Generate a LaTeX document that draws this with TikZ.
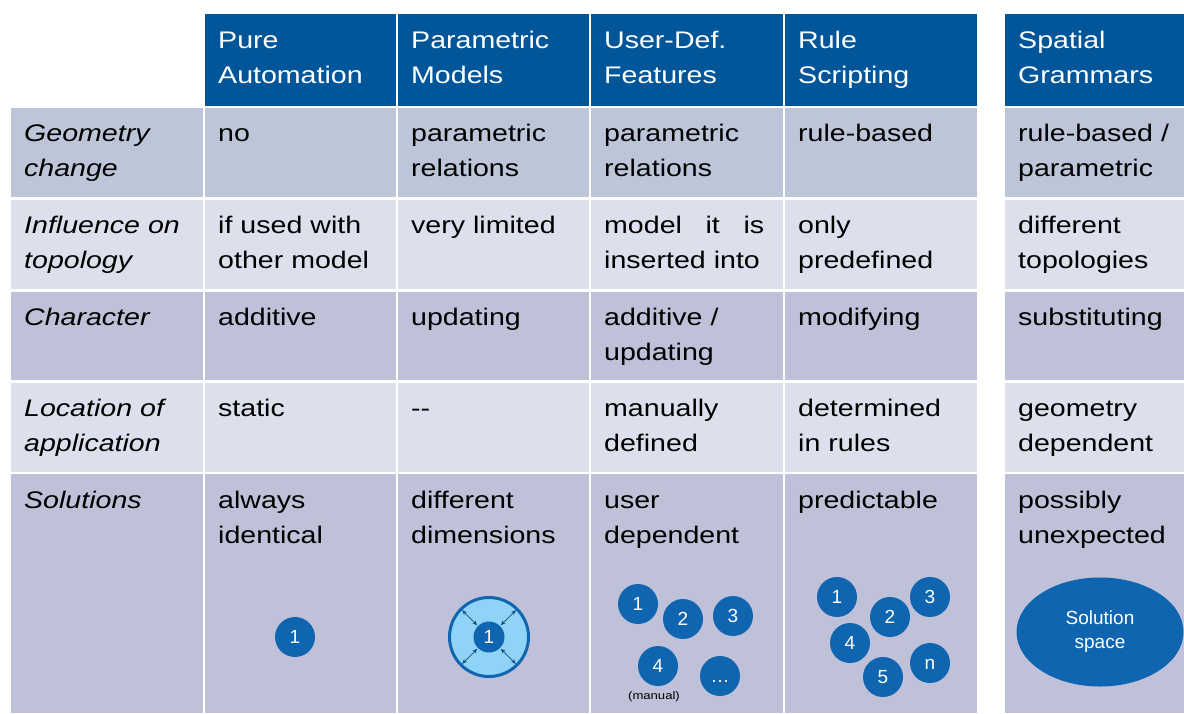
\documentclass[tikz,border=0pt]{standalone}
\usepackage{fontspec}
\setmainfont{Liberation Sans}[FakeStretch=1.19]
\newfontfamily\dotfont{Liberation Sans}
\usepackage{tikz}
\usetikzlibrary{shapes.geometric, arrows.meta, positioning}
\usepackage{xcolor}
\definecolor{headblue}{RGB}{1,86,154}
\definecolor{rowblue}{RGB}{189,198,217}
\definecolor{rowlight}{RGB}{221,224,236}
\definecolor{rowpurple}{RGB}{191,193,216}
\definecolor{dotblue}{RGB}{16,101,176}
\definecolor{lightcyan}{RGB}{143,212,246}
\definecolor{arrowblue}{RGB}{20,72,132}

\begin{document}
\begin{tikzpicture}[x=1pt, y=-1pt, >={Stealth[length=5pt, width=4pt]}]
    \useasboundingbox (0,0) rectangle (1184,713);
    \tikzstyle{cell}=[anchor=base west, inner sep=0pt, text width=172pt, align=left, font=\fontsize{24}{35}\selectfont]
    \tikzstyle{head}=[cell, text=white]
    \tikzstyle{numdot}=[circle, fill=dotblue, text=white, minimum size=40pt, inner sep=0pt, text height=13.6pt, text depth=0pt, font=\dotfont\fontsize{19}{19}\selectfont]

    % Header cells
    \foreach \xa/\xb in {205/396, 398/589, 591/783, 785/977, 1005/1184}
        \fill[headblue] (\xa,14) rectangle (\xb,106);

    % Body cells, row by row
    \foreach \ya/\yb/\rowcol in {108/197/rowblue, 200/289/rowlight, 292/380/rowpurple, 383/472/rowlight, 474/713/rowpurple}
        \foreach \xa/\xb in {11/203, 205/396, 398/589, 591/783, 785/977, 1005/1184}
            \fill[\rowcol] (\xa,\ya) rectangle (\xb,\yb);

    % Column heads
    \node[head] (hPA) at (218,48) {Pure\\Automation};
    \node[head] (hPM) at (411,48) {Parametric\\Models};
    \node[head] (hUDF) at (604,48) {User-Def.\\Features};
    \node[head] (hRS) at (798,48) {Rule\\Scripting};
    \node[head] (hSG) at (1018,48) {Spatial\\Grammars};

    % Row labels
    \node[cell] (lGeo) at (24,141) {\itshape Geometry\\change};
    \node[cell] (lTop) at (24,233) {\itshape Influence on\\topology};
    \node[cell] (lChar) at (24,325) {\itshape Character};
    \node[cell] (lLoc) at (24,416) {\itshape Location of\\application};
    \node[cell] (lSol) at (24,508) {\itshape Solutions};

    % Geometry change
    \node[cell] (geoPA) at (218,141) {no};
    \node[cell] (geoPM) at (411,141) {parametric\\relations};
    \node[cell] (geoUDF) at (604,141) {parametric\\relations};
    \node[cell] (geoRS) at (798,141) {rule-based};
    \node[cell] (geoSG) at (1018,141) {rule-based /\\parametric};

    % Influence on topology
    \node[cell] (topPA) at (218,233) {if used with\\other model};
    \node[cell] (topPM) at (411,233) {very limited};
    \node[cell, text width=160pt] (topUDF) at (604,233) {model\hfill it\hfill is\\inserted into};
    \node[cell] (topRS) at (798,233) {only\\predefined};
    \node[cell] (topSG) at (1018,233) {different\\topologies};

    % Character
    \node[cell] (chPA) at (218,325) {additive};
    \node[cell] (chPM) at (411,325) {updating};
    \node[cell] (chUDF) at (604,325) {additive /\\updating};
    \node[cell] (chRS) at (798,325) {modifying};
    \node[cell] (chSG) at (1018,325) {substituting};

    % Location of application
    \node[cell] (locPA) at (218,416) {static};
    \node[cell] (locPM) at (411,416) {-{}-};
    \node[cell] (locUDF) at (604,416) {manually\\defined};
    \node[cell] (locRS) at (798,416) {determined\\in rules};
    \node[cell] (locSG) at (1018,416) {geometry\\dependent};

    % Solutions
    \node[cell] (solPA) at (218,508) {always\\identical};
    \node[cell] (solPM) at (411,508) {different\\dimensions};
    \node[cell] (solUDF) at (604,508) {user\\dependent};
    \node[cell] (solRS) at (798,508) {predictable};
    \node[cell] (solSG) at (1018,508) {possibly\\unexpected};

    % Solution sketches
    \node[numdot] (paOne) at (295,637) {1};

    \node[circle, draw=dotblue, line width=3pt, fill=lightcyan, minimum size=79pt, inner sep=0pt] (pmRing) at (489,637) {};
    \node[numdot, minimum size=31pt] (pmOne) at (489,637) {1};
    \foreach \ang in {45,135,225,315}
        \draw[<->, arrowblue, line width=0.7pt, shorten <=1pt, shorten >=3pt] (pmOne.\ang) -- (pmRing.\ang);

    \node[numdot] (udOne) at (638,604) {1};
    \node[numdot] (udTwo) at (683,619) {2};
    \node[numdot] (udThree) at (733,616) {3};
    \node[numdot] (udFour) at (658,666) {4};
    \node[numdot] (udDots) at (720,676) {\dots};
    \node[font=\fontsize{11}{11}\selectfont, inner sep=0pt] (udManual) at (654,697) {(manual)};

    \node[numdot] (rsOne) at (837,597) {1};
    \node[numdot] (rsTwo) at (890,617) {2};
    \node[numdot] (rsThree) at (930,597) {3};
    \node[numdot] (rsFour) at (850,643) {4};
    \node[numdot] (rsFive) at (883,677) {5};
    \node[numdot] (rsN) at (930,663) {n};

    \node[ellipse, fill=dotblue, text=white, minimum width=167pt, minimum height=109pt, inner sep=0pt, align=center, font=\dotfont\fontsize{19}{24}\selectfont] (sgSpace) at (1100,632) {Solution\\space};
\end{tikzpicture}
\end{document}
